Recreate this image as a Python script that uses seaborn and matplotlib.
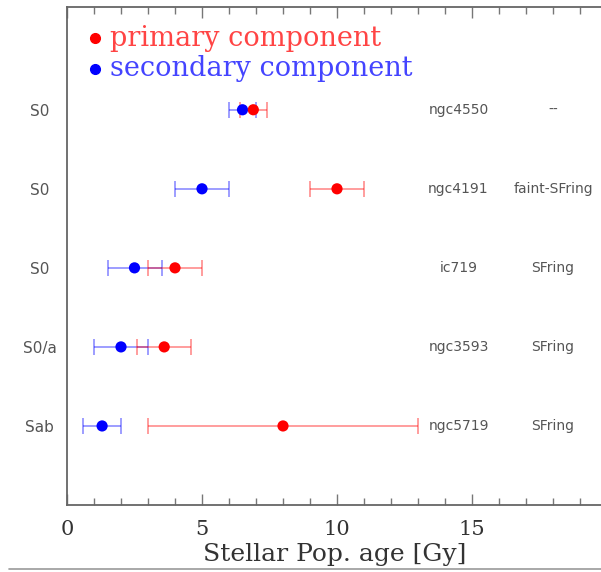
import matplotlib
matplotlib.use("Agg")
import matplotlib.pyplot as plt
import seaborn as sns
import pandas as pd
from matplotlib.lines import Line2D
from matplotlib.ticker import MultipleLocator

# ---- data ----
galaxies = ["ngc4550", "ngc4191", "ic719", "ngc3593", "ngc5719"]
morph = ["S0", "S0", "S0", "S0/a", "Sab"]
notes = ["--", "faint-SFring", "SFring", "SFring", "SFring"]
row_pos = [5, 4, 3, 2, 1]
primary_age = [6.9, 10.0, 4.0, 3.6, 8.0]
primary_err = [0.5, 1.0, 1.0, 1.0, 5.0]
secondary_age = [6.5, 5.0, 2.5, 2.0, 1.3]
secondary_err = [0.5, 1.0, 1.0, 1.0, 0.7]
xticks = [0, 5, 10, 15]
xtick_labels = ["0", "5", "10", "15"]

sns.set_theme(style="white")
plt.rcParams["font.family"] = ["DejaVu Sans"]

fig = plt.figure(figsize=(6.01, 5.72), dpi=100)
ax = fig.add_axes([67/601, 67/572, 540/601, 498/572])

prim = pd.DataFrame({"age": primary_age, "err": primary_err, "y": row_pos})
sec = pd.DataFrame({"age": secondary_age, "err": secondary_err, "y": row_pos})

for df, col in [(sec, "blue"), (prim, "red")]:
    ax.errorbar(df["age"], df["y"], xerr=df["err"], fmt="none", ecolor=col,
                alpha=0.45, elinewidth=1.2, capsize=6, capthick=1.2, zorder=2)
sns.scatterplot(data=sec, x="age", y="y", color="blue", s=65, edgecolor="none",
                ax=ax, zorder=3)
sns.scatterplot(data=prim, x="age", y="y", color="red", s=65, edgecolor="none",
                ax=ax, zorder=4)

ax.set_xlim(0, 20)
ax.set_ylim(0, 6.3)
ax.xaxis.set_major_locator(MultipleLocator(5))
ax.xaxis.set_minor_locator(MultipleLocator(1))
ax.set_xticks(xticks)
ax.set_xticklabels(xtick_labels, family="DejaVu Serif", fontsize=15, color="#333333")
ax.tick_params(axis="x", which="major", direction="in", length=8, width=1, color="#777777",
               top=True, bottom=True, pad=11)
ax.tick_params(axis="x", which="minor", direction="in", length=5, width=1, color="#777777",
               top=True, bottom=True)
ax.set_yticks(row_pos)
ax.set_yticklabels(morph, fontsize=11, color="#555555", ha="center")
ax.tick_params(axis="y", length=0, pad=19.5)

ax.set_xlabel("Stellar Pop. age [Gy]", family="DejaVu Serif", fontsize=18, color="#333333",
              va="baseline")
ax.xaxis.set_label_coords(0.496, -0.1125)
ax.set_ylabel("")

for s in ax.spines.values():
    s.set_color("#666666")
    s.set_linewidth(1.3)
ax.spines["right"].set_visible(False)

for g, n, y in zip(galaxies, notes, row_pos):
    ax.text(14.5, y, g, ha="center", va="center", fontsize=10, color="#555555")
    ax.text(18.0, y, n, ha="center", va="center", fontsize=10, color="#555555")

# legend
ax.plot([1.04], [5.91], "o", color="red", ms=7)
ax.plot([1.04], [5.51], "o", color="blue", ms=7)
ax.text(1.59, 5.81, "primary component", color="#ff4444", fontsize=19.5,
        family="DejaVu Serif", va="baseline", ha="left")
ax.text(1.59, 5.43, "secondary component", color="#4444ff", fontsize=19.5,
        family="DejaVu Serif", va="baseline", ha="left")

fig.add_artist(Line2D([0.015, 1.0], [3/572, 3/572], color="#999999", lw=1.2,
                      transform=fig.transFigure))

fig.savefig("out.png", dpi=100)
